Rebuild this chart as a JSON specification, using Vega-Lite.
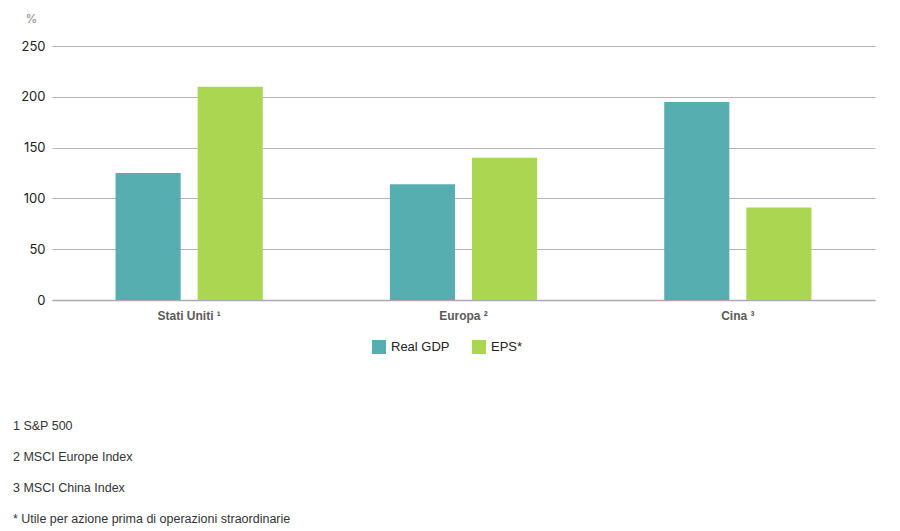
{
  "$schema": "https://vega.github.io/schema/vega-lite/v6.json",
  "autosize": "none",
  "width": 823,
  "height": 254,
  "padding": {"left": 52, "top": 46, "right": 25, "bottom": 231},
  "background": "white",
  "data": {
    "values": [
      {"region": "Stati Uniti ¹", "series": "Real GDP", "value": 125},
      {"region": "Stati Uniti ¹", "series": "EPS*", "value": 210},
      {"region": "Europa ²", "series": "Real GDP", "value": 114},
      {"region": "Europa ²", "series": "EPS*", "value": 140},
      {"region": "Cina  ³", "series": "Real GDP", "value": 195},
      {"region": "Cina  ³", "series": "EPS*", "value": 91}
    ]
  },
  "title": {
    "text": ["1 S&P 500", "2 MSCI Europe Index", "3 MSCI China Index", "* Utile per azione prima di operazioni straordinarie"],
    "orient": "bottom",
    "anchor": "start",
    "frame": "group",
    "dx": -39,
    "offset": 66,
    "lineHeight": 31,
    "font": "Liberation Sans",
    "fontSize": 12.5,
    "fontWeight": "normal",
    "color": "#333333",
    "baseline": "top"
  },
  "mark": {"type": "bar"},
  "encoding": {
    "x": {
      "field": "region",
      "type": "nominal",
      "sort": ["Stati Uniti ¹", "Europa ²", "Cina  ³"],
      "scale": {"paddingInner": 0, "paddingOuter": 0},
      "axis": {
        "title": null,
        "labelAngle": 0,
        "ticks": false,
        "labelPadding": 10,
        "labelFont": "Liberation Sans",
        "labelFontSize": 12,
        "labelFontWeight": "bold",
        "labelColor": "#5a5a5a",
        "domainColor": "#aaaaaa",
        "domainWidth": 1.5
      }
    },
    "xOffset": {
      "field": "series",
      "type": "nominal",
      "sort": ["Real GDP", "EPS*"],
      "scale": {"paddingInner": 0.207, "paddingOuter": 0.774}
    },
    "y": {
      "field": "value",
      "type": "quantitative",
      "scale": {"domain": [0, 250], "nice": false},
      "axis": {
        "title": "%",
        "titleAngle": 0,
        "titleAlign": "left",
        "titleBaseline": "middle",
        "titleX": -27,
        "titleY": -28,
        "titleFont": "Inter",
        "titleFontSize": 12,
        "titleFontWeight": "normal",
        "titleColor": "#888888",
        "values": [0, 50, 100, 150, 200, 250],
        "domain": false,
        "ticks": false,
        "grid": true,
        "gridColor": "#b5b5b5",
        "gridWidth": 1,
        "labelPadding": 7,
        "labelFont": "Inter",
        "labelFontSize": 13,
        "labelColor": "#222222"
      }
    },
    "color": {
      "field": "series",
      "type": "nominal",
      "sort": ["Real GDP", "EPS*"],
      "scale": {"domain": ["Real GDP", "EPS*"], "range": ["#57aeb0", "#aad651"]},
      "legend": {
        "title": null,
        "orient": "none",
        "legendX": 320,
        "legendY": 294,
        "direction": "horizontal",
        "symbolType": "square",
        "symbolSize": 196,
        "symbolStrokeWidth": 0,
        "labelFont": "Liberation Sans",
        "labelFontSize": 13,
        "labelColor": "#222222",
        "labelOffset": 5,
        "columnPadding": 22
      }
    }
  },
  "config": {"view": {"stroke": null}}
}
